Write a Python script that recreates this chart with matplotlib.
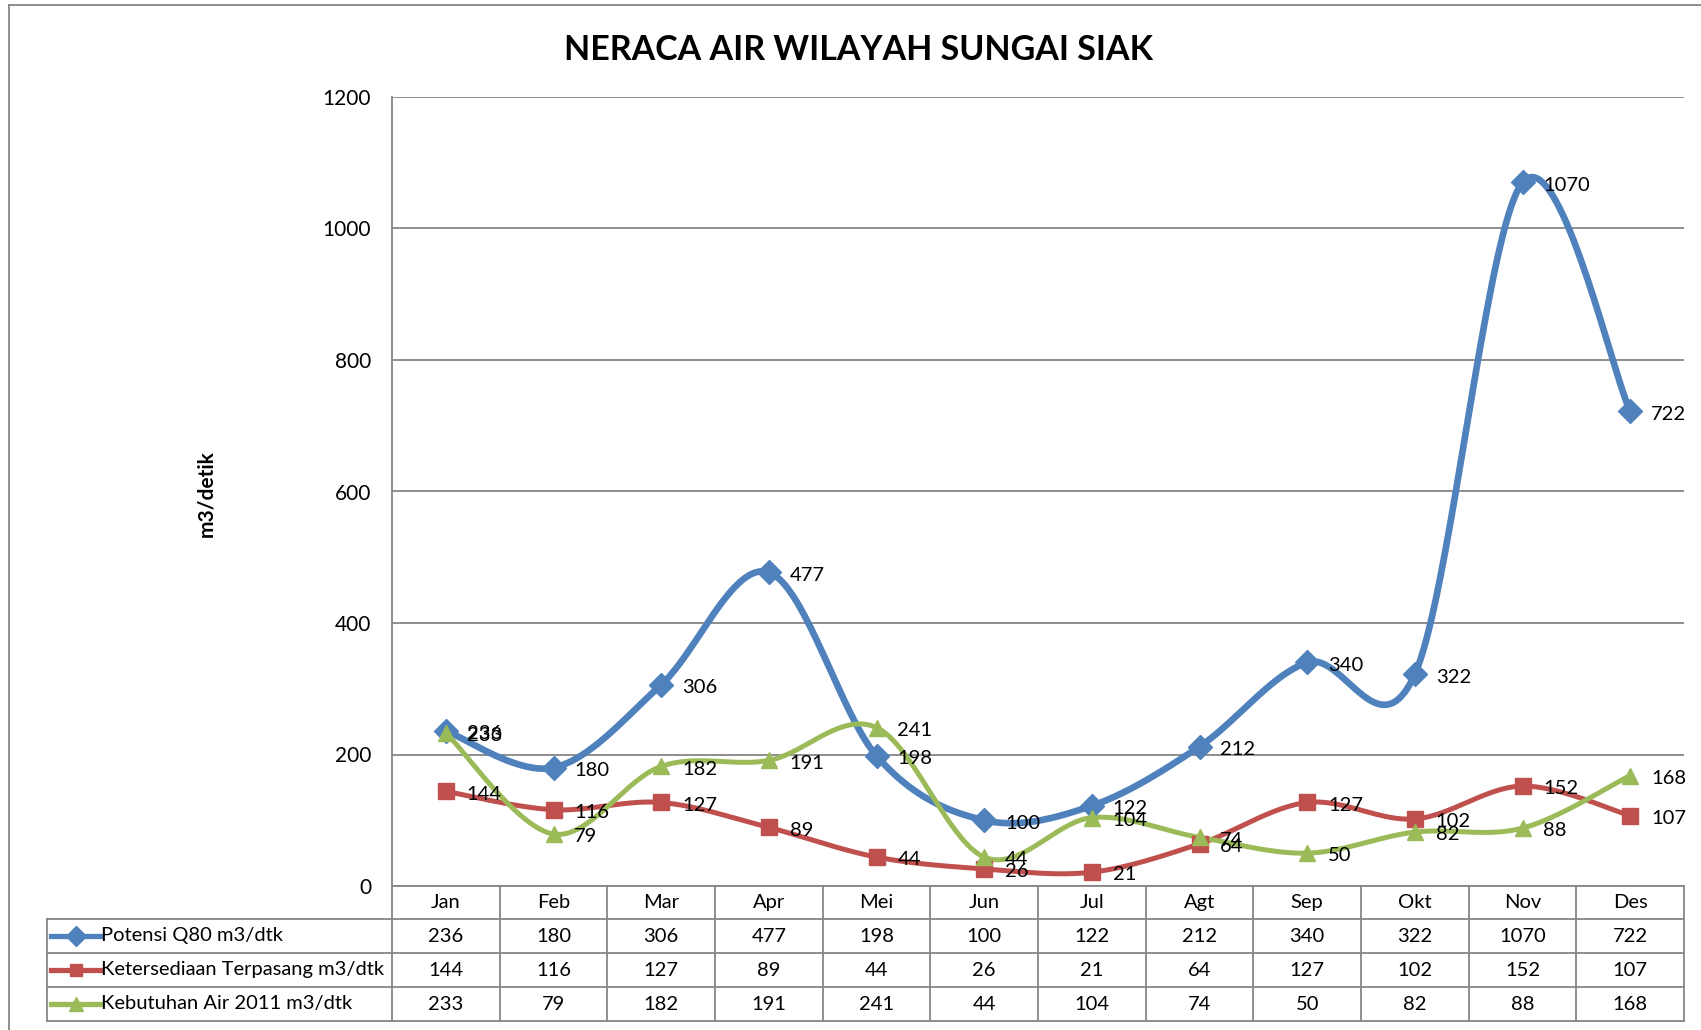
import numpy as np
import matplotlib.pyplot as plt
from matplotlib.lines import Line2D
import matplotlib.transforms as mtransforms

plt.rcParams["font.family"] = ["Lato", "DejaVu Sans"]

months = ["Jan", "Feb", "Mar", "Apr", "Mei", "Jun", "Jul", "Agt", "Sep", "Okt", "Nov", "Des"]
potensi = [236, 180, 306, 477, 198, 100, 122, 212, 340, 322, 1070, 722]
tersedia = [144, 116, 127, 89, 44, 26, 21, 64, 127, 102, 152, 107]
kebutuhan = [233, 79, 182, 191, 241, 44, 104, 74, 50, 82, 88, 168]
names = ["Potensi Q80 m3/dtk", "Ketersediaan Terpasang m3/dtk", "Kebutuhan Air 2011 m3/dtk"]
series = [potensi, tersedia, kebutuhan]
colors = ["#4F81BD", "#C0504D", "#9BBB59"]
markers = ["D", "s", "^"]
msizes = [12, 11, 12]
lwidths = [4.8, 3.6, 3.6]
yticks = [0, 200, 400, 600, 800, 1000, 1200]

W, H = 1701, 1030
GRID = "#868686"


def smooth(y, n=40):
    # catmull-rom style bezier, roughly what excel does for "smoothed line"
    y = np.asarray(y, float)
    x = np.arange(len(y), dtype=float)
    P = np.column_stack([x, y])
    out = []
    for i in range(len(P) - 1):
        p0 = P[max(i - 1, 0)]
        p1 = P[i]
        p2 = P[i + 1]
        p3 = P[min(i + 2, len(P) - 1)]
        c1 = p1 + (p2 - p0) / 6
        c2 = p2 - (p3 - p1) / 6
        t = np.linspace(0, 1, n)[:, None]
        seg = (1 - t) ** 3 * p1 + 3 * (1 - t) ** 2 * t * c1 + 3 * (1 - t) * t ** 2 * c2 + t ** 3 * p2
        out.append(seg if i == 0 else seg[1:])
    out = np.vstack(out)
    return out[:, 0], out[:, 1]


fig = plt.figure(figsize=(W / 100, H / 100), dpi=100)
ax = fig.add_axes([392 / W, 1 - 886 / H, (1684 - 392) / W, (886 - 97) / H])

x = np.arange(len(months))
for vals, c, m, ms, lw in zip(series, colors, markers, msizes, lwidths):
    sx, sy = smooth(vals)
    ax.plot(sx, sy, color=c, lw=lw, solid_capstyle="round", zorder=3)
    ax.plot(x, vals, ls="none", marker=m, ms=ms, color=c, zorder=4)
    for xi, v in zip(x, vals):
        ax.annotate(str(v), (xi, v), xytext=(15, -2), textcoords="offset points",
                    ha="left", va="center", fontsize=14.5, zorder=5)

ax.set_xlim(-0.5, len(months) - 0.5)
ax.set_ylim(0, 1200)
ax.set_yticks(yticks)
ax.set_xticks([])
ax.grid(axis="y", color=GRID, lw=1.3)
ax.set_axisbelow(True)
ax.tick_params(axis="y", length=0, pad=15, labelsize=15)
for s in ["top", "right"]:
    ax.spines[s].set_visible(False)
for s in ["left", "bottom"]:
    ax.spines[s].set_color(GRID)
    ax.spines[s].set_linewidth(1.3)

fig.text(858 / W, 1 - 50 / H, "NERACA AIR WILAYAH SUNGAI SIAK", ha="center", va="center",
         fontsize=24.5, fontweight="bold")
fig.text(206 / W, 1 - 494 / H, "m3/detik", rotation=90, ha="center", va="center",
         fontsize=15, fontweight="bold")

# data table under the axis
trans = mtransforms.blended_transform_factory(ax.transData, fig.transFigure)
rows = [886, 919, 953, 987, 1021]
fy = [1 - r / H for r in rows]
xl = -0.5 - (392 - 47) / ((1684 - 392) / 12)  # legend column left edge in data units
xr = len(months) - 0.5

for k in range(1, 5):
    fig.add_artist(Line2D([xl, xr], [fy[k], fy[k]], transform=trans, color=GRID, lw=1.3))
for i in range(len(months) + 1):
    fig.add_artist(Line2D([i - 0.5, i - 0.5], [fy[0], fy[4]], transform=trans, color=GRID, lw=1.3))
fig.add_artist(Line2D([xl, xl], [fy[1], fy[4]], transform=trans, color=GRID, lw=1.3))

for i, mth in enumerate(months):
    fig.text(i, (fy[0] + fy[1]) / 2, mth, transform=trans, ha="center", va="center", fontsize=14.5)

for k, (vals, nm, c, m, ms) in enumerate(zip(series, names, colors, markers, msizes)):
    yc = (fy[k + 1] + fy[k + 2]) / 2
    for i, v in enumerate(vals):
        fig.text(i, yc, str(v), transform=trans, ha="center", va="center", fontsize=14.5)
    fig.add_artist(Line2D([51 / W, 100 / W], [yc, yc], transform=fig.transFigure, color=c, lw=3.8))
    fig.add_artist(Line2D([75.5 / W], [yc], transform=fig.transFigure, color=c, marker=m,
                          ms=ms * 0.85, ls="none"))
    fig.text(101 / W, yc, nm, ha="left", va="center", fontsize=14.5)

# outer chart border (left and top edges visible in the crop)
fig.add_artist(Line2D([9 / W, 9 / W], [0, 1 - 5 / H], transform=fig.transFigure, color=GRID, lw=1.3))
fig.add_artist(Line2D([9 / W, 1], [1 - 5 / H, 1 - 5 / H], transform=fig.transFigure, color=GRID, lw=1.3))

fig.savefig("out.png", dpi=100)
